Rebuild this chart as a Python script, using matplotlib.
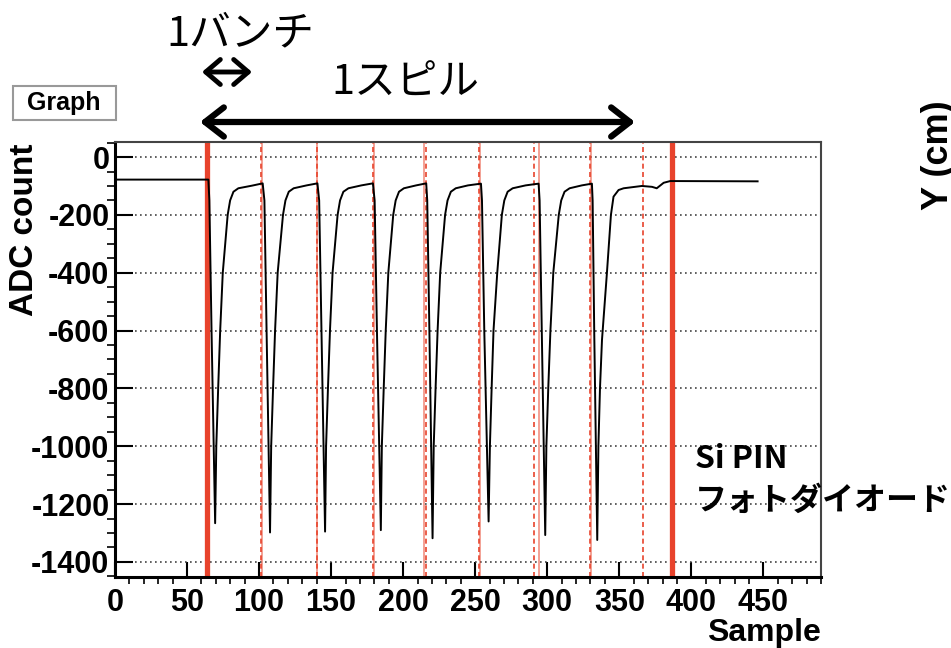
import matplotlib
matplotlib.use("Agg")
import matplotlib.pyplot as plt
from matplotlib.ticker import MultipleLocator
from matplotlib.patches import FancyBboxPatch

# --- waveform vertices (sample number, ADC count) ---
sample = [
    0, 64.8, 65.5, 67.0, 69.5, 70.3, 71.6, 73.0, 74.8, 78.2, 79.9, 82.2, 85.6, 95.0, 102.5,
    103.7, 105.2, 107.6, 108.4, 109.7, 111.1, 112.9, 116.6, 118.3, 120.6, 124.0, 133.0, 140.5,
    141.7, 143.3, 145.8, 146.5, 147.8, 149.2, 151.0, 154.5, 156.2, 158.5, 162.0, 171.0, 179.0,
    180.2, 181.8, 184.5, 185.2, 186.5, 187.9, 189.7, 193.1, 194.8, 197.1, 200.5, 209.0, 216.0,
    216.7, 218.2, 220.4, 221.2, 222.5, 223.9, 225.7, 229.1, 230.8, 233.1, 236.5, 245.0, 254.0,
    254.7, 256.3, 259.3, 260.2, 261.4, 262.7, 265.3, 268.5, 270.2, 272.5, 276.0, 285.0, 294.0,
    294.7, 296.2, 298.6, 299.4, 300.7, 302.2, 304.2, 308.0, 309.7, 312.0, 315.5, 324.0, 331.0,
    331.5, 332.6, 334.7, 335.5, 336.6, 338.0, 341.4, 344.2, 346.0, 349.5, 353.0, 365.7,
    372.7, 376.0, 380.8, 385.4, 446.0,
]
adc = [
    -78, -78, -150, -600, -1266, -1000, -800, -600, -400, -200, -150, -120, -108, -99, -91,
    -150, -600, -1298, -1000, -800, -600, -400, -200, -150, -120, -108, -98, -91,
    -150, -600, -1295, -1000, -800, -600, -400, -200, -150, -120, -108, -98, -91,
    -150, -600, -1290, -1000, -800, -600, -400, -200, -150, -120, -108, -98, -91,
    -150, -600, -1318, -1000, -800, -600, -400, -200, -150, -120, -108, -98, -92,
    -150, -600, -1260, -1000, -800, -600, -400, -200, -150, -120, -108, -98, -92,
    -150, -600, -1307, -1000, -800, -600, -400, -200, -150, -120, -108, -98, -92,
    -150, -600, -1324, -1000, -800, -632, -402, -200, -137, -114, -108, -100,
    -103, -108, -89, -83, -84,
]

# red markers: spill edges (thick), bunch starts (thin solid), expected bunches (dashed)
spill_edges = [63.7, 386.6]
bunch_starts = [102.0, 140.0, 179.5, 214.5, 253.5, 294.5, 330.5]
bunch_expected = [101.5, 140.5, 179.0, 216.0, 252.5, 290.5, 330.0, 366.3]

W, H = 951, 648
RED = "#e8432c"
JP = ["Noto Sans CJK JP", "DejaVu Sans"]
ROOTFONT = "Liberation Sans"
plt.rcParams["axes.unicode_minus"] = False

fig = plt.figure(figsize=(W / 100, H / 100), dpi=100)
ax = fig.add_axes([115 / W, 1 - 577 / H, (821 - 115) / W, (577 - 142) / H])

ax.yaxis.grid(True, which="major", linestyle=(0, (1, 2)), color="#444444", lw=1.2, zorder=1)
for x in bunch_starts:
    ax.axvline(x, color=RED, lw=1.4, alpha=0.5, zorder=2)
for x in bunch_expected:
    ax.axvline(x, color=RED, lw=1.2, ls=(0, (3, 2)), zorder=2)
for x in spill_edges:
    ax.axvline(x, color=RED, lw=3.8, zorder=2)

ax.plot(sample, adc, color="black", lw=1.4, zorder=3)

ax.set_xlim(0, 490)
ax.set_ylim(-1452, 52)
ax.xaxis.set_major_locator(MultipleLocator(50))
ax.xaxis.set_minor_locator(MultipleLocator(10))
ax.yaxis.set_major_locator(MultipleLocator(200))
ax.yaxis.set_minor_locator(MultipleLocator(50))
ax.tick_params(direction="in", top=False, right=False, width=1.5, color="black")
ax.tick_params(axis="x", which="major", length=11, pad=8)
ax.tick_params(axis="x", which="minor", length=5, width=1.2)
ax.tick_params(axis="y", which="major", length=13, pad=4)
ax.tick_params(axis="y", which="minor", length=6, width=1.2)
for lab in ax.get_xticklabels() + ax.get_yticklabels():
    lab.set_fontfamily(ROOTFONT)
    lab.set_fontweight("bold")
    lab.set_fontsize(22)
for side in ("left", "bottom"):
    ax.spines[side].set_linewidth(2.2)
for side in ("top", "right"):
    ax.spines[side].set_linewidth(1.5)
    ax.spines[side].set_color("#444444")

# axis titles, ROOT style (right / top aligned)
fig.text(25 / W, 1 - 143 / H, "ADC count", rotation=90, ha="center", va="top",
         fontsize=24, fontweight="bold", family=ROOTFONT)
fig.text(821 / W, 1 - 641 / H, "Sample", ha="right", va="baseline",
         fontsize=23, fontweight="bold", family=ROOTFONT)
fig.text(921 / W, 1 - 155 / H, "Y (cm)", rotation=90, ha="left", va="center",
         fontsize=26, fontweight="bold", family=ROOTFONT)

# "Graph" title box
fig.patches.append(FancyBboxPatch((13 / W, 1 - 120 / H), 103 / W, 34 / H,
                                  boxstyle="square,pad=0", transform=fig.transFigure,
                                  facecolor="white", edgecolor="#999999", lw=1.5))
fig.text(64 / W, 1 - 103 / H, "Graph", ha="center", va="center",
         fontsize=18, fontweight="bold", family=ROOTFONT)

# annotations
fig.text(240 / W, 1 - 34 / H, "1バンチ", ha="center", va="center", fontsize=30, family=JP)
fig.text(405 / W, 1 - 83 / H, "1スピル", ha="center", va="center", fontsize=30, family=JP)
ax.annotate("", xy=(252, H - 72), xytext=(202, H - 72), xycoords="figure pixels",
            arrowprops=dict(arrowstyle="<->,head_length=0.35,head_width=0.3", lw=3.5,
                            color="black", shrinkA=0, shrinkB=0, mutation_scale=30))
ax.annotate("", xy=(635, H - 122), xytext=(200, H - 122), xycoords="figure pixels",
            arrowprops=dict(arrowstyle="<->,head_length=0.45,head_width=0.35", lw=4.5,
                            color="black", shrinkA=0, shrinkB=0, mutation_scale=30))

fig.text(695 / W, 1 - 468 / H, "Si PIN", ha="left", va="baseline",
         fontsize=23, fontweight="bold", family=JP)
fig.text(695 / W, 1 - 501 / H, "フォトダイオード", ha="left", va="center",
         fontsize=23, fontweight="bold", family=JP)

fig.savefig("out.png", dpi=100, facecolor="white")
